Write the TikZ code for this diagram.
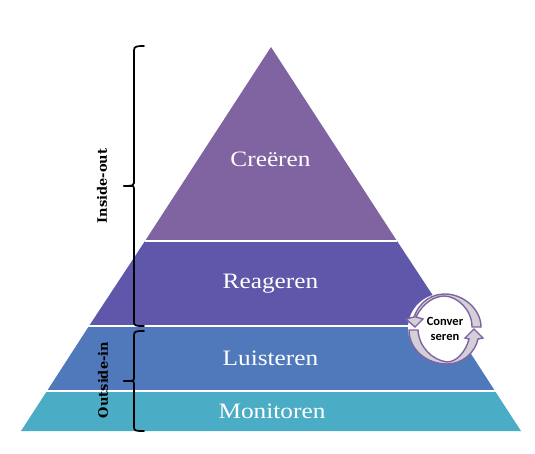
\documentclass[tikz,border=0pt]{standalone}
\usepackage{fontspec}
\setmainfont{Liberation Serif}[FakeStretch=1.15]
\newfontfamily\cyclefont{Carlito}
\newfontfamily\sidefont{DejaVu Serif}
\definecolor{layerA}{HTML}{8064A2}
\definecolor{layerB}{HTML}{5F58AA}
\definecolor{layerC}{HTML}{4F79BA}
\definecolor{layerD}{HTML}{4BACC6}
\definecolor{ringline}{HTML}{8064A2}
\definecolor{ringfill}{HTML}{D3D0D8}
\tikzset{
  layerlabel/.style={text=white,font=\fontsize{22}{24}\selectfont,inner sep=0pt},
  sidelabel/.style={rotate=90,font=\sidefont\bfseries\fontsize{13}{15}\selectfont,inner sep=0pt},
  bracket/.style={draw=black,line width=1.7pt,line cap=round},
  sep/.style={draw=white,line width=1.6pt},
  ring/.style={draw=ringline,line width=1.4pt,fill=ringfill,line join=miter},
}
\begin{document}
\begin{tikzpicture}[x=1pt,y=-1pt]
\useasboundingbox (0,0) rectangle (535,454);
% pyramid
\coordinate (apex) at (271,47);
\coordinate (l1) at (145,241); \coordinate (r1) at (397,241);
\coordinate (l2) at (89,326);  \coordinate (r2) at (453,326);
\coordinate (l3) at (47,391);  \coordinate (r3) at (495,391);
\coordinate (l4) at (21,431);  \coordinate (r4) at (521,431);
\fill[layerA] (apex) -- (r1) -- (l1) -- cycle;
\fill[layerB] (l1) -- (r1) -- (r2) -- (l2) -- cycle;
\fill[layerC] (l2) -- (r2) -- (r3) -- (l3) -- cycle;
\fill[layerD] (l3) -- (r3) -- (r4) -- (l4) -- cycle;
\draw[sep] (l1) -- (r1);
\draw[sep] ([xshift=-2pt]l2) -- ([xshift=2pt]r2);
\draw[sep] ([xshift=-2pt]l3) -- ([xshift=2pt]r3);
\node[layerlabel] (creeren) at (270.5,159) {Creëren};
\node[layerlabel] (reageren) at (270.5,283.5) {Reageren};
\node[layerlabel] (luisteren) at (270.5,358) {Luisteren};
\node[layerlabel] (monitoren) at (272,411) {Monitoren};
% brackets
\draw[bracket] (144,46) .. controls (138,46) and (134,46) .. (134,50) -- (134,183)
  .. controls (134,185) and (133,186) .. (124,186);
\draw[bracket] (124,186) -- (133,186) .. controls (134,187) and (134,188) .. (134,190)
  -- (134,322) .. controls (134,326) and (136,326) .. (144,326);
\draw[bracket] (144,331) .. controls (137,331) and (134,331) .. (134,335) -- (134,378)
  .. controls (134,381) and (133,381) .. (124,381);
\draw[bracket] (124,381) -- (133,381) .. controls (134,382) and (134,383) .. (134,385)
  -- (134,427) .. controls (134,431) and (136,431) .. (144,431);
\node[sidelabel] (insideout) at (102,186) {Inside-out};
\node[sidelabel] (outsidein) at (103,380) {Outside-in};
% cycle
\fill[white] (445,328) ellipse [x radius=37, y radius=35];
\path[ring] (481,327) .. controls (481,309) and (463,294) .. (445,294)
  .. controls (432,294) and (420,301) .. (414,317) -- (406,319) -- (415,327) -- (423,319) -- (416,317)
  .. controls (423,303) and (434,296) .. (445,296)
  .. controls (458,297) and (472,310) .. (472,327) -- cycle;
\path[ring] (409,330) .. controls (409,349) and (426,364) .. (447,364)
  .. controls (462,364) and (475,353) .. (478,339) -- (483,338) -- (474,329) -- (465,338) -- (469,339)
  .. controls (466,351) and (457,362) .. (447,362)
  .. controls (432,360) and (419,347) .. (418,330) -- cycle;
\node[font=\cyclefont\bfseries\fontsize{12.5}{15}\selectfont,align=center,inner sep=0pt] (cyc) at (445,329) {Conver\\seren};
\end{tikzpicture}
\end{document}
